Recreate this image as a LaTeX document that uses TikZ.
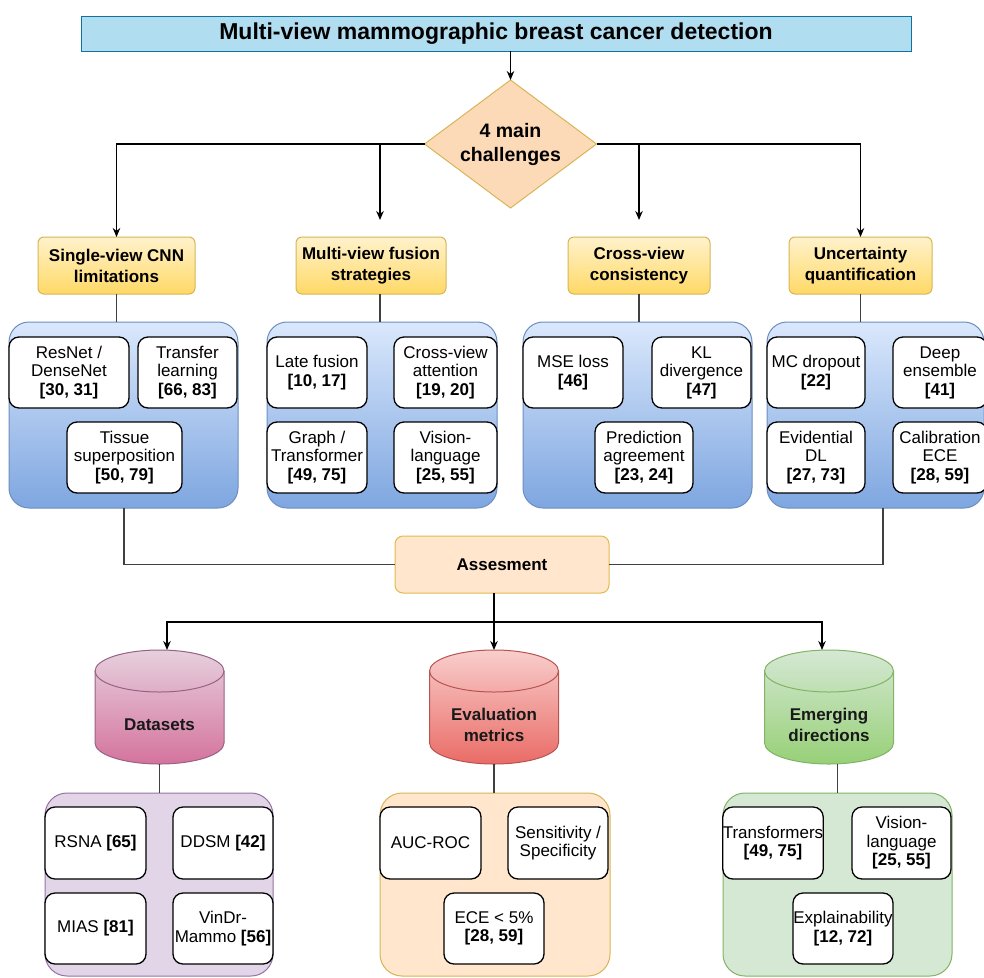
\documentclass[tikz,border=0pt]{standalone}
\usepackage{fontspec}
\setmainfont{Liberation Sans}
\usetikzlibrary{arrows.meta,shapes.geometric,calc}

\definecolor{titlefill}{HTML}{B1DDF0}
\definecolor{titledraw}{HTML}{10739E}
\definecolor{diafill}{HTML}{FCDAB8}
\definecolor{golddraw}{HTML}{D6B656}
\definecolor{yeltop}{HTML}{FFF2CC}
\definecolor{yelbot}{HTML}{FFD966}
\definecolor{bluetop}{HTML}{DAE8FC}
\definecolor{bluebot}{HTML}{7EA6E0}
\definecolor{bluedraw}{HTML}{6C8EBF}
\definecolor{orfill}{HTML}{FFE6CC}
\definecolor{ordraw}{HTML}{D79B00}
\definecolor{purfill}{HTML}{E1D5E7}
\definecolor{purdraw}{HTML}{9673A6}
\definecolor{grnfill}{HTML}{D5E8D4}
\definecolor{grndraw}{HTML}{82B366}
\definecolor{pinktop}{HTML}{E6D0DE}
\definecolor{pinkbot}{HTML}{D5739D}
\definecolor{pinkdraw}{HTML}{996185}
\definecolor{redtop}{HTML}{F8CECC}
\definecolor{redbot}{HTML}{EA6B66}
\definecolor{reddraw}{HTML}{B85450}
\definecolor{gtop}{HTML}{D5E8D4}
\definecolor{gbot}{HTML}{97D077}

% cylinder: cx, ytop, ybot, top colour, bottom colour, draw colour
\newcommand{\drawcyl}[6]{%
  \shade[top color=#4, bottom color=#5, draw=#6, line width=1pt]
    (#1-64.5,#2+21) -- (#1-64.5,#3-21)
    arc[start angle=180, end angle=360, x radius=64.5pt, y radius=21pt]
    -- (#1+64.5,#2+21)
    arc[start angle=0, end angle=180, x radius=64.5pt, y radius=21pt] -- cycle;
  \draw[draw=#6, line width=1pt] (#1-64.5,#2+21)
    arc[start angle=180, end angle=360, x radius=64.5pt, y radius=21pt];
}

\tikzset{
  arr/.style={-{Stealth[length=9pt,width=7.5pt]}, line width=1.3pt, draw=black},
  ln/.style={line width=1.3pt, draw=black!75},
  titlebox/.style={draw=titledraw, fill=titlefill, line width=1pt, minimum width=830pt,
    minimum height=35pt, inner sep=0pt, outer sep=0pt, font=\fontsize{23}{26}\selectfont\bfseries},
  dia/.style={diamond, aspect=1.34, minimum width=172pt, minimum height=128pt, inner sep=0pt,
    outer sep=0pt, fill=diafill, draw=golddraw, line width=1pt, align=center,
    font=\fontsize{19.5}{24}\selectfont\bfseries},
  chal/.style={rounded corners=6pt, top color=yeltop, bottom color=yelbot, draw=golddraw,
    line width=1pt, minimum height=57pt, inner sep=0pt, outer sep=0pt, align=center,
    font=\fontsize{17}{21}\selectfont\bfseries},
  panel/.style={rounded corners=20pt, line width=1pt, minimum height=186pt, inner sep=0pt, outer sep=0pt},
  bluepanel/.style={panel, top color=bluetop, bottom color=bluebot, draw=bluedraw},
  bpanel/.style={rounded corners=22pt, line width=1pt, minimum height=183pt, inner sep=0pt, outer sep=0pt},
  ibox/.style={draw=black, fill=white, line width=1.3pt, rounded corners=10pt, align=center,
    inner sep=0pt, outer sep=0pt, minimum width=100pt, minimum height=71pt,
    font=\fontsize{17}{18.5}\selectfont},
  asbox/.style={rounded corners=8pt, fill=orfill, draw=ordraw!70, line width=1pt,
    minimum width=214pt, minimum height=57pt, inner sep=0pt, outer sep=0pt,
    font=\fontsize{17}{21}\selectfont\bfseries},
  cyltxt/.style={align=center, inner sep=0pt, font=\fontsize{17}{21}\selectfont\bfseries, text=black!90},
}

\begin{document}
\begin{tikzpicture}[x=1pt,y=-1pt]
\path[use as bounding box] (0,0) rectangle (984,977);
\clip (0,0) rectangle (984,977);
\fill[white] (0,0) rectangle (984,977);

% title and diamond
\node[titlebox] (title) at (496,33.5) {Multi-view mammographic breast cancer detection};
\node[dia] (dia) at (510.5,144) {4 main\\challenges};

% challenge boxes
\node[chal, minimum width=157pt] (c1) at (116.5,265.5) {Single-view CNN\\limitations};
\node[chal, minimum width=150pt] (c2) at (371,265.5) {Multi-view fusion\\strategies};
\node[chal, minimum width=142pt] (c3) at (639,265.5) {Cross-view\\consistency};
\node[chal, minimum width=143pt] (c4) at (860.5,265.5) {Uncertainty\\quantification};

% blue panels
\node[bluepanel, minimum width=229pt] (p1) at (123.5,415) {};
\node[bluepanel, minimum width=230pt] (p2) at (382,415) {};
\node[bluepanel, minimum width=229pt] (p3) at (637.5,415) {};
\node[bluepanel, minimum width=217pt] (p4) at (875.5,415) {};

% panel 1
\node[ibox, minimum width=120pt] (r1) at (69,372.5) {ResNet /\\DenseNet\\\textbf{[30, 31]}};
\node[ibox, minimum width=99pt] (r2) at (187.5,372.5) {Transfer\\learning\\\textbf{[66, 83]}};
\node[ibox, minimum width=115pt] (r3) at (124.5,457.5) {Tissue\\superposition\\\textbf{[50, 79]}};
% panel 2
\node[ibox] (f1) at (317,372.5) {Late fusion\\\textbf{[10, 17]}};
\node[ibox, minimum width=103pt] (f2) at (445.5,372.5) {Cross-view\\attention\\\textbf{[19, 20]}};
\node[ibox] (f3) at (317,457.5) {Graph /\\Transformer\\\textbf{[49, 75]}};
\node[ibox, minimum width=103pt] (f4) at (445.5,457.5) {Vision-\\language\\\textbf{[25, 55]}};
% panel 3
\node[ibox] (m1) at (573,372.5) {MSE loss\\\textbf{[46]}};
\node[ibox, minimum width=99pt] (m2) at (701.5,372.5) {KL\\divergence\\\textbf{[47]}};
\node[ibox, minimum width=98pt] (m3) at (644,457.5) {Prediction\\agreement\\\textbf{[23, 24]}};
% panel 4
\node[ibox, minimum width=98pt] (u1) at (816,372.5) {MC dropout\\\textbf{[22]}};
\node[ibox, minimum width=94pt] (u2) at (940,372.5) {Deep\\ensemble\\\textbf{[41]}};
\node[ibox, minimum width=98pt] (u3) at (816,457.5) {Evidential\\DL\\\textbf{[27, 73]}};
\node[ibox, minimum width=94pt] (u4) at (940,457.5) {Calibration\\ECE\\\textbf{[28, 59]}};

% assessment
\node[asbox] (as) at (502,564.5) {Assesment};

% cylinders
\drawcyl{159.5}{650}{764}{pinktop}{pinkbot}{pinkdraw}
\drawcyl{494}{650}{764}{redtop}{redbot}{reddraw}
\drawcyl{829}{650}{764}{gtop}{gbot}{grndraw}
\node[cyltxt] (d1) at (159.5,725) {Datasets};
\node[cyltxt] (d2) at (494,725) {Evaluation\\metrics};
\node[cyltxt] (d3) at (829,725) {Emerging\\directions};
\coordinate (d1top) at (167,650);
\coordinate (d2top) at (494,650);
\coordinate (d3top) at (822,650);
\coordinate (d1bot) at (159.5,764);
\coordinate (d2bot) at (494,764);
\coordinate (d3bot) at (829,764);

% bottom panels
\node[bpanel, fill=purfill, draw=purdraw, minimum width=228pt] (b1) at (159,884.5) {};
\node[bpanel, fill=orfill, draw=golddraw, minimum width=230pt] (b2) at (495,884.5) {};
\node[bpanel, fill=grnfill, draw=grndraw, minimum width=229pt] (b3) at (837.5,884.5) {};

\node[ibox, minimum width=101pt, minimum height=72pt] (s1) at (95.5,843) {RSNA \textbf{[65]}};
\node[ibox, minimum height=72pt] (s2) at (223,843) {DDSM \textbf{[42]}};
\node[ibox, minimum width=101pt] (s3) at (95.5,928.5) {MIAS \textbf{[81]}};
\node[ibox] (s4) at (223,928.5) {VinDr-\\Mammo \textbf{[56]}};

\node[ibox, minimum width=101pt, minimum height=72pt] (e1) at (430.5,843) {AUC-ROC};
\node[ibox, minimum height=72pt] (e2) at (558,843) {Sensitivity /\\Specificity};
\node[ibox] (e3) at (494,928.5) {ECE < 5\%\\\textbf{[28, 59]}};

\node[ibox, minimum height=72pt] (g1) at (773,843) {Transformers\\\textbf{[49, 75]}};
\node[ibox, minimum width=99pt, minimum height=72pt] (g2) at (901.5,843) {Vision-\\language\\\textbf{[25, 55]}};
\node[ibox] (g3) at (843,928.5) {Explainability\\\textbf{[12, 72]}};

% connectors top
\coordinate (a2) at (380,220);
\coordinate (a3) at (639,220);
\draw[arr] (title.south -| dia.north) -- (dia.north);
\draw[arr] (dia.west) -| (c1.north);
\draw[arr] (dia.east) -| (c4.north);
\draw[arr] (dia.west -| a2) -- (a2);
\draw[arr] (dia.east -| a3) -- (a3);

% challenge to panels
\draw[ln] (c1.south) -- (c1.south |- p1.north);
\draw[ln] (a2 |- c2.south) -- (a2 |- p2.north);
\draw[ln] (c3.south) -- (c3.south |- p3.north);
\draw[ln] (c4.south) -- (c4.south |- p4.north);

% panels to assessment
\coordinate (q1) at (124,508);
\coordinate (q4) at (883,508);
\draw[ln] (q1) |- (as.west);
\draw[ln] (q4) |- (as.east);

% assessment to cylinders
\coordinate (hj) at (494,622);
\draw[arr] (as.south -| d2top) -- (d2top);
\draw[arr] (hj) -| (d1top);
\draw[arr] (hj) -| (d3top);

% cylinders to bottom panels
\draw[ln] (d1bot) -- (d1bot |- b1.north);
\draw[ln] (d2bot) -- (d2bot |- b2.north);
\draw[ln] (d3bot -| b3.north) -- (b3.north);
\end{tikzpicture}
\end{document}
